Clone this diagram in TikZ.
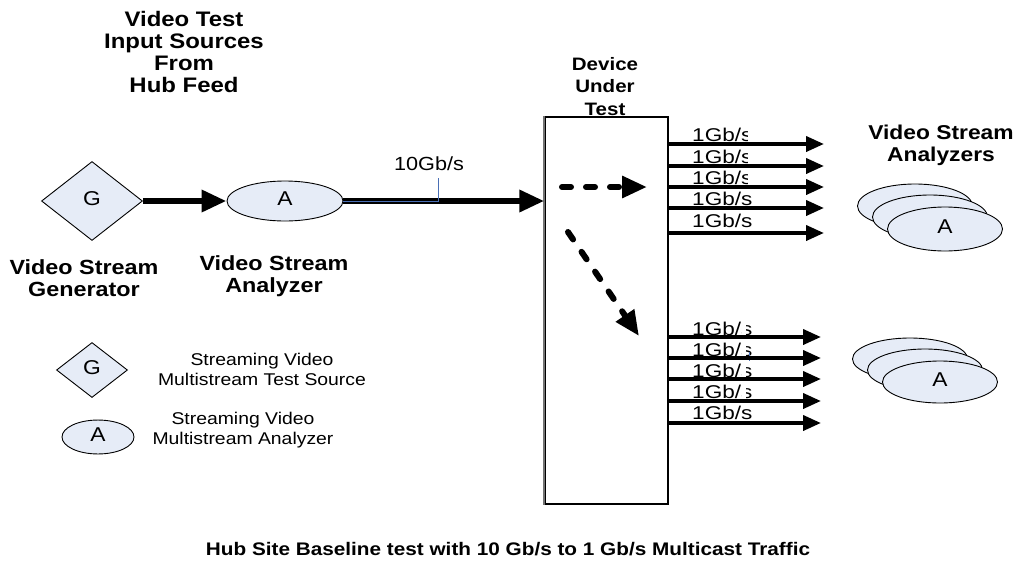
\documentclass[tikz,border=0pt]{standalone}
\usepackage{fontspec}
\setmainfont{Liberation Sans}
\usetikzlibrary{arrows.meta,shapes.geometric}
\definecolor{unitfill}{HTML}{E6ECF7}
\definecolor{tagblue}{HTML}{4A6FB5}
% text set a little wider than the font's natural shape
\newcommand{\wtext}[3]{\scalebox{1.14}[1]{\fontsize{#1}{#2}\selectfont\begin{tabular}{@{}c@{}}#3\end{tabular}}}
\newcommand{\wbold}[3]{\scalebox{1.14}[1]{\fontsize{#1}{#2}\selectfont\bfseries\begin{tabular}{@{}c@{}}#3\end{tabular}}}
\newcommand{\ratetext}[1]{\scalebox{1.22}[1]{\fontsize{18.5}{22}\selectfont #1}}

\begin{document}
\begin{tikzpicture}[x=1pt,y=-1pt,
  txt/.style={inner sep=0pt},
  unitdiamond/.style={diamond, draw=black, line width=0.9pt, fill=unitfill, inner sep=0pt},
  unitoval/.style={ellipse, draw=black, line width=0.9pt, fill=unitfill, inner sep=0pt},
  bigarrow/.style={line width=6.5pt, -{Triangle[length=25pt,width=21pt]}},
  fanarrow/.style={line width=3.8pt, -{Triangle[length=18pt,width=15pt]}},
  flowarrow/.style={line width=6pt, dash pattern=on 9pt off 15pt, line cap=round, -{Triangle[length=25pt,width=21pt]}}
]
\useasboundingbox (0,0) rectangle (1021,563);

% headings
\node[txt] (srctitle) at (184,55) {\wbold{21}{22}{Video Test\\Input Sources\\From\\Hub Feed}};
\node[txt] (duttitle) at (605,88) {\wbold{18}{22.5}{Device\\Under\\Test}};
\node[txt] (anstitle) at (941,146) {\wbold{20}{22}{Video Stream\\Analyzers}};
\node[txt] (caption) at (508,551) {\wbold{18.2}{22}{Hub Site Baseline test with 10 Gb/s to 1 Gb/s Multicast Traffic}};

% generator and analyzer of the input feed
\node[unitdiamond, minimum width=101, minimum height=79] (gen) at (92,201) {\wtext{20}{24}{G}};
\node[unitoval, minimum width=116, minimum height=40] (ana) at (285,201) {\wtext{20}{24}{A}};
\node[txt] (genlbl) at (84,281) {\wbold{20.5}{22.5}{Video Stream\\Generator}};
\node[txt] (analbl) at (274,277) {\wbold{20.5}{22.5}{Video Stream\\Analyzer}};

% device under test
\node[draw=black, line width=1.3pt, minimum width=123, minimum height=387, inner sep=0pt] (dut) at (606.5,310.5) {};
\draw[black!55, line width=2.2pt] (dut.north west) -- (dut.south west);

% input links
\draw[bigarrow] (gen.east) -- (ana.west);
\draw[bigarrow] (ana.east) -- (ana.east -| dut.west);
\coordinate (tagtop) at (438,178);
\draw[tagblue, line width=0.8pt] (ana.east) -- (ana.east -| tagtop) -- (tagtop);
\node[txt] (rate) at (429,166) {\wtext{19}{22}{10Gb/s}};

% internal multicast paths
\coordinate (fwdstart) at (562,187);
\coordinate (fwdend) at (647,187);
\coordinate (dnstart) at (568,232);
\coordinate (dnend) at (639,336);
\draw[flowarrow] (fwdstart) -- (fwdend);
\draw[flowarrow] (dnstart) -- (dnend);

% output links, upper group
\foreach \i/\y in {1/141,2/163,3/184,4/205,5/227}{
  \node[txt, anchor=base west] (uplbl\i) at (692,\y) {\ratetext{1Gb/s}};
}
\foreach \y in {141,163,184}{
  \fill[white] (747.5,\y-14) rectangle (752.5,\y+0.5);
}
\foreach \i/\y in {1/144,2/166,3/187,4/208,5/233}{
  \coordinate (up\i) at (824,\y);
  \draw[fanarrow] (dut.east |- up\i) -- (up\i);
}
% output links, lower group
\foreach \i/\y in {1/335,2/356,3/377,4/398,5/419}{
  \node[txt, anchor=base west] (lolbl\i) at (692,\y) {\ratetext{1Gb/s}};
}
\foreach \y in {335,356,377,398}{
  \fill[white] (742,\y-14) rectangle (745.5,\y+0.5);
}
\draw[tagblue, line width=0.6pt] (749,352) -- (749,361);
\foreach \i/\y in {1/337,2/358,3/379,4/401,5/423}{
  \coordinate (lo\i) at (821,\y);
  \draw[fanarrow] (dut.east |- lo\i) -- (lo\i);
}

% analyzer stacks
\node[unitoval, minimum width=115, minimum height=44] (ua3) at (915,206) {};
\node[unitoval, minimum width=115, minimum height=44] (ua2) at (930,217) {};
\node[unitoval, minimum width=115, minimum height=44] (ua1) at (945,229) {\wtext{20}{24}{A}};
\node[unitoval, minimum width=115, minimum height=42] (la3) at (910,359) {};
\node[unitoval, minimum width=115, minimum height=42] (la2) at (925,370) {};
\node[unitoval, minimum width=115, minimum height=42] (la1) at (940,382) {\wtext{20}{24}{A}};

% legend
\node[unitdiamond, minimum width=71, minimum height=55] (keygen) at (92,370) {\wtext{20}{24}{G}};
\node[txt] (keygentxt) at (262,371) {\wtext{17}{20}{Streaming Video\\Multistream Test Source}};
\node[unitoval, minimum width=72, minimum height=28] (keyana) at (98,437) {\wtext{20}{24}{A}};
\node[txt] (keyanatxt) at (243,430) {\wtext{17}{20}{Streaming Video\\Multistream Analyzer}};
\end{tikzpicture}
\end{document}
